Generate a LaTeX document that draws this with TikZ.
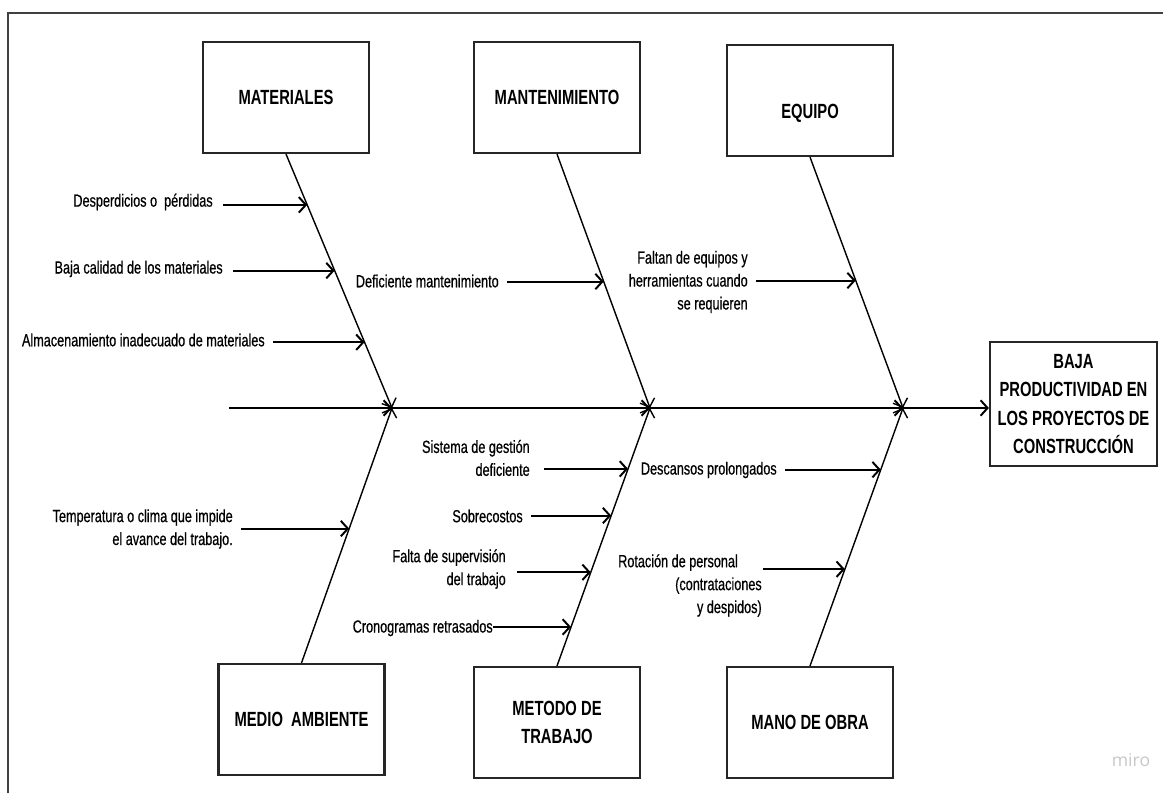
\documentclass[tikz,border=0pt]{standalone}
\usepackage{fontspec}
\setmainfont{Liberation Sans}[FakeStretch=0.72]
\newfontfamily\causefont{Liberation Sans}[FakeStretch=0.72, FakeBold=0.6]
\newfontfamily\mirofont{Open Sans}
\usetikzlibrary{arrows.meta}
\usetikzlibrary{calc}
\tikzset{>={Straight Barb[length=5pt,width=11pt]}}
\tikzstyle{frame}=[draw=black!75, line width=1.8pt]
\tikzstyle{cat}=[draw=black!85, line width=1.5pt, minimum width=4.15cm, minimum height=2.775cm, inner sep=0pt, align=center, font=\fontsize{14.6}{20}\selectfont\bfseries]
\tikzstyle{cattxt}=[inner sep=0pt, font=\fontsize{14.6}{20}\selectfont\bfseries]
\tikzstyle{cause}=[anchor=east, inner sep=0pt, align=right, font=\causefont\fontsize{12.5}{16.3}\selectfont]
\tikzstyle{bone}=[->, line width=1pt]
\tikzstyle{twig}=[->, line width=1.4pt]

\begin{document}
\begin{tikzpicture}[x=0.025cm, y=-0.025cm]
	\useasboundingbox (0,0) rectangle (1163,793);
	\draw[frame] (8,13) rectangle (1190,820);

	% categorias
	\node[cat] (mat) at (286,97.5) {MATERIALES};
	\node[cat] (man) at (557,97.5) {MANTENIMIENTO};
	\node[cat] (equ) at (810,100.5) {};
	\node[cattxt] (equ-t) at (810,113) {EQUIPO};
	\node[cat] (med) at (301.5,719.5) {MEDIO\ \ AMBIENTE};
	\node[cat] (met) at (557,722.5) {METODO DE\\TRABAJO};
	\node[cat] (mob) at (810,722.5) {MANO DE OBRA};
	\node[cat, minimum width=4.175cm, minimum height=3.1cm] (eff) at (1073.5,404) {BAJA\\PRODUCTIVIDAD EN\\LOS PROYECTOS DE\\CONSTRUCCIÓN};

	% espina
	\coordinate (s0) at (229,408);
	\coordinate (j1) at (392,408);
	\coordinate (j2) at (650,408);
	\coordinate (j3) at (903,408);
	\draw[twig] (s0) -- (j1);
	\draw[twig] (j1) -- (j2);
	\draw[twig] (j2) -- (j3);
	\draw[twig] (j3) -- (eff.west |- j3);

	\draw[bone] (mat.south) -- (j1);
	\draw[bone] (man.south) -- (j2);
	\draw[bone] (equ.south) -- (j3);
	\draw[bone] (med.north) -- (j1);
	\draw[bone] (met.north) -- (j2);
	\draw[bone] (mob.north) -- (j3);

	% causas
	\coordinate (p1) at ($(mat.south)!0.2!(j1)$);
	\coordinate (p2) at ($(mat.south)!0.459!(j1)$);
	\coordinate (p3) at ($(mat.south)!0.741!(j1)$);
	\coordinate (p4) at ($(man.south)!0.502!(j2)$);
	\coordinate (p5) at ($(equ.south)!0.492!(j3)$);
	\coordinate (p6) at ($(med.north)!0.527!(j1)$);
	\coordinate (p7) at ($(met.north)!0.764!(j2)$);
	\coordinate (p8) at ($(met.north)!0.583!(j2)$);
	\coordinate (p9) at ($(met.north)!0.363!(j2)$);
	\coordinate (p10) at ($(met.north)!0.151!(j2)$);
	\coordinate (p11) at ($(mob.north)!0.761!(j3)$);
	\coordinate (p12) at ($(mob.north)!0.375!(j3)$);

	\node[cause] (c1) at (213,202) {Desperdicios o \ pérdidas};
	\node[cause] (c2) at (223,269) {Baja calidad de los materiales};
	\node[cause] (c3) at (265,340) {Almacenamiento inadecuado de materiales};
	\node[cause] (c4) at (499,281) {Deficiente mantenimiento};
	\node[cause] (c5) at (748,282) {Faltan de equipos y\\herramientas cuando\\se requieren};
	\node[cause] (c6) at (233,529) {Temperatura o clima que impide\\el avance del trabajo.};
	\node[cause] (c7) at (530,458) {Sistema de gestión\\deficiente};
	\node[cause] (c8) at (523,516) {Sobrecostos};
	\node[cause] (c9) at (506,569) {Falta de supervisión\\del trabajo};
	\node[cause] (c10) at (493,628) {Cronogramas retrasados};
	\node[cause] (c11) at (777,470) {Descansos prolongados};
	\node[cause] (c12) at (762,585.5) {Rotación de personal\hspace*{17pt}\\(contrataciones\\y despidos)};

	\draw[twig] ([xshift=7pt]c1.east |- p1) -- (p1);
	\draw[twig] ([xshift=7pt]c2.east |- p2) -- (p2);
	\draw[twig] ([xshift=6pt]c3.east |- p3) -- (p3);
	\draw[twig] ([xshift=6pt]c4.east |- p4) -- (p4);
	\draw[twig] ([xshift=6pt]c5.east |- p5) -- (p5);
	\draw[twig] ([xshift=6pt]c6.east |- p6) -- (p6);
	\draw[twig] ([xshift=10pt]c7.east |- p7) -- (p7);
	\draw[twig] ([xshift=6pt]c8.east |- p8) -- (p8);
	\draw[twig] ([xshift=8pt]c9.east |- p9) -- (p9);
	\draw[twig] (c10.east |- p10) -- (p10);
	\draw[twig] ([xshift=6pt]c11.east |- p11) -- (p11);
	\draw[twig] ([xshift=1pt]c12.east |- p12) -- (p12);

	\node[text=black!22, inner sep=0pt, font=\mirofont\fontsize{12.5}{14}\selectfont] (miro) at (1131,760) {miro};
\end{tikzpicture}
\end{document}
